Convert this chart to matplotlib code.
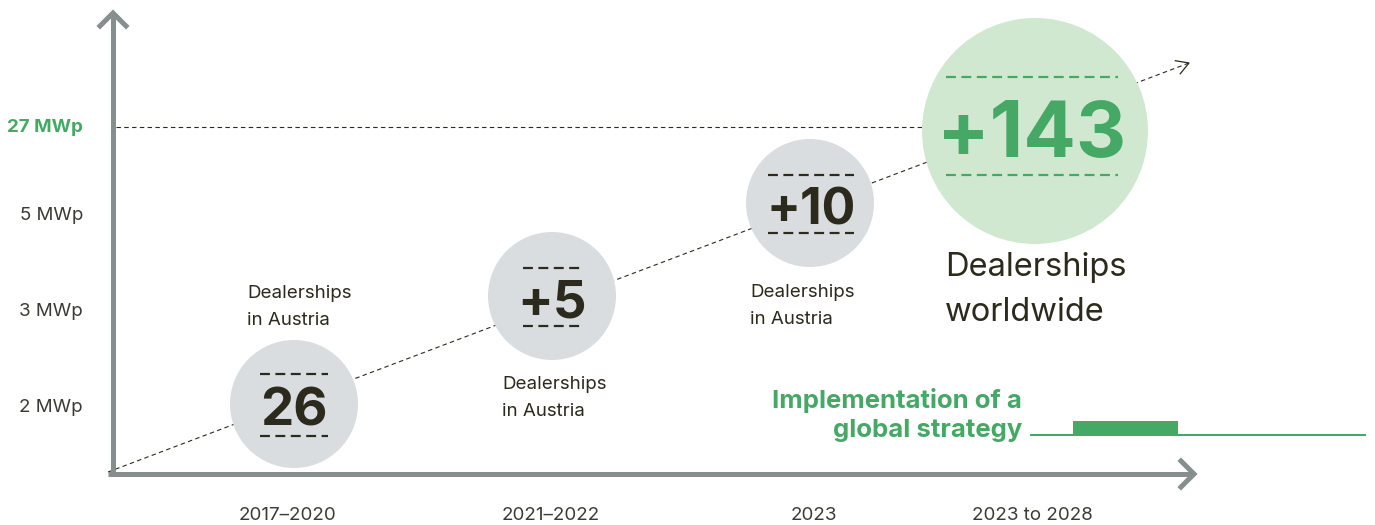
import numpy as np
import matplotlib
matplotlib.use("Agg")
import matplotlib.pyplot as plt
from matplotlib.patches import Circle, Rectangle

# ---- data ----
categories = ["2017\u20132020", "2021\u20132022", "2023", "2023 to 2028"]
y_levels = ["2 MWp", "3 MWp", "5 MWp", "27 MWp"]
bubble_values = ["26", "+5", "+10", "+143"]
bubble_captions = ["Dealerships\nin Austria", "Dealerships\nin Austria",
                   "Dealerships\nin Austria", "Dealerships\nworldwide"]
strategy_label = "Implementation of a\nglobal strategy"

# ---- layout (pixel space of a 1375x525 canvas) ----
x_pos = [288, 551, 814, 1032]
y_pos = [408, 311, 216, 127]
bubble_x = [294, 552, 810, 1035]
bubble_y = [404, 296, 203, 131]
bubble_r = [64, 64, 64, 113]
origin = (110, 472)

GRAY_AX = "#878f8e"
DARK = "#2c2a1c"
TXT = "#3b3b36"
GREEN = "#45a865"
BUB_GRAY = "#d9dddf"
BUB_GREEN = "#d1e8d0"

plt.rcParams['font.family'] = ['Inter', 'DejaVu Sans']

fig = plt.figure(figsize=(13.75, 5.25), dpi=100)
ax = fig.add_axes([0, 0, 1, 1])
ax.set_xlim(0, 1375)
ax.set_ylim(525, 0)
ax.axis("off")

PX = 0.72  # points per pixel

# axes arrows
ax.plot([origin[0] + 3, origin[0] + 3], [origin[1] + 2, 14], color=GRAY_AX, lw=5 * PX, solid_capstyle="butt", zorder=3)
ax.plot([100, 113, 126], [26, 13, 26], color=GRAY_AX, lw=5 * PX, solid_joinstyle="miter", zorder=3)
ax.plot([origin[0] - 2, 1191], [origin[1] + 2, origin[1] + 2], color=GRAY_AX, lw=5 * PX, solid_capstyle="butt", zorder=3)
ax.plot([1181, 1194, 1181], [461, 474, 487], color=GRAY_AX, lw=5 * PX, solid_joinstyle="miter", zorder=3)

# 27 MWp reference line
ax.plot([116, 925], [y_pos[3], y_pos[3]], color=DARK, lw=0.8, ls=(0, (4, 3)), zorder=1)

# trend line with open arrowhead
tip = np.array([1189, 63])
start = np.array([origin[0] - 2, origin[1]])
ax.plot([start[0], tip[0]], [start[1], tip[1]], color=DARK, lw=0.8, ls=(0, (4, 3)), zorder=1)
d = (tip - start) / np.linalg.norm(tip - start)
nrm = np.array([-d[1], d[0]])
a1 = tip - 12 * d + 7 * nrm
a2 = tip - 12 * d - 7 * nrm
ax.plot([a1[0], tip[0], a2[0]], [a1[1], tip[1], a2[1]], color=DARK, lw=0.9, zorder=1)

# y labels
for i, (lab, y) in enumerate(zip(y_levels, y_pos)):
    if i == 3:
        ax.text(83, y, lab, ha="right", va="center", fontsize=13.5, color=GREEN, fontweight="bold")
    else:
        ax.text(83, y, lab, ha="right", va="center", fontsize=13.5, color=TXT)

# x labels
for lab, x in zip(categories, x_pos):
    ax.text(x, 515, lab, ha="center", va="center", fontsize=13.5, color=TXT)

# bubbles
dash_half = [34, 29, 43, 86]
dash_off = [31, 29, 29, 49]
num_size = [38, 38, 36, 56]
for i, (v, bx, by, r) in enumerate(zip(bubble_values, bubble_x, bubble_y, bubble_r)):
    fc = BUB_GREEN if i == 3 else BUB_GRAY
    col = GREEN if i == 3 else DARK
    ax.add_patch(Circle((bx, by), r, facecolor=fc, edgecolor="none", zorder=2))
    cx = [294, 552, 811, 1032][i]
    for off in (-dash_off[i], dash_off[i]):
        ax.plot([cx - dash_half[i], cx + dash_half[i]], [by + off + (1 if i < 3 else -5), by + off + (1 if i < 3 else -5)],
                color=col, lw=2.2 * PX, ls=(0, (4.5, 2.5)), zorder=4)
    ax.text(cx, by + (3 if i < 3 else -3), v, ha="center", va="center_baseline", fontsize=num_size[i],
            fontweight="bold", color=col, zorder=5)

# captions
cap_xy = [(247, 307), (502, 398), (750, 306), (945, 290)]
cap_size = [13.5, 13.5, 13.5, 23.5]
cap_ls = [1.7, 1.7, 1.7, 1.55]
for cap, (cx, cy), fs, ls in zip(bubble_captions, cap_xy, cap_size, cap_ls):
    ax.text(cx, cy, cap, ha="left", va="center", fontsize=fs, color=DARK, linespacing=ls, zorder=5)

# strategy
ax.text(1022, 415, strategy_label, ha="right", va="center", fontsize=18.5, fontweight="bold",
        color=GREEN, linespacing=1.32)
ax.plot([1030, 1366], [435, 435], color=GREEN, lw=2 * PX, solid_capstyle="butt")
ax.add_patch(Rectangle((1073, 421), 105, 13, facecolor=GREEN, edgecolor="none"))

fig.savefig("out.png", dpi=100)
